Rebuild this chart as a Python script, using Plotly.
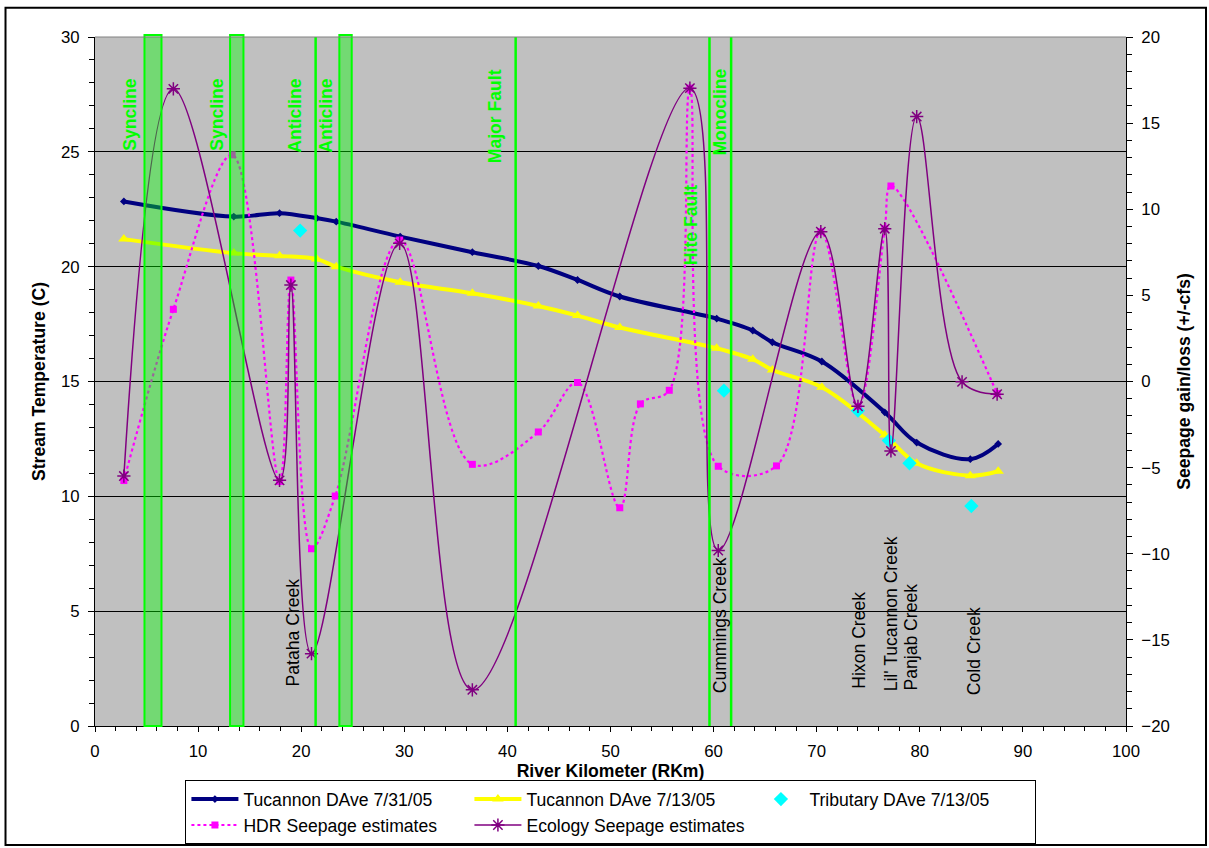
import plotly.graph_objects as go

# ---------------- data ----------------
km_main = [2.8, 13.46, 17.9, 21.5, 23.4, 29.6, 36.6, 43.0, 46.8, 50.9, 60.3, 63.8, 65.7, 70.5, 76.6, 79.7, 84.9, 87.6]
temp_0731 = [22.84, 22.18, 22.33, 22.11, 21.96, 21.31, 20.63, 20.03, 19.42, 18.70, 17.74, 17.22, 16.71, 15.87, 13.66, 12.34, 11.62, 12.28]
temp_0713 = [21.2, 20.59, 20.47, 20.33, 20.0, 19.32, 18.84, 18.29, 17.87, 17.35, 16.45, 15.97, 15.5, 14.75, 12.67, 11.44, 10.9, 11.09]

trib_km = [19.9, 61.0, 74.0, 77.0, 79.0, 85.0]
trib_temp = [21.57, 14.6, 13.73, 12.43, 11.44, 9.58]

hdr_km = [2.8, 7.6, 13.3, 17.9, 19.0, 21.0, 23.3, 29.55, 36.6, 43.0, 46.8, 50.9, 52.9, 55.7, 57.7, 60.45, 66.1, 70.4, 74.0, 76.6, 77.2, 87.5]
hdr_cfs = [-5.75, 4.19, 13.16, -5.8, 5.89, -9.71, -6.65, 8.21, -4.81, -2.93, -0.06, -7.33, -1.30, -0.51, 17.03, -4.92, -4.9, 8.70, -1.44, 8.87, 11.35, -0.7]

eco_km = [2.8, 7.6, 17.9, 19.0, 21.0, 29.55, 36.6, 57.7, 60.45, 70.4, 74.0, 76.6, 77.2, 79.7, 84.1, 87.5]
eco_cfs = [-5.49, 16.99, -5.74, 5.6, -15.8, 8.02, -17.9, 17.03, -9.81, 8.70, -1.44, 8.87, -4.03, 15.38, -0.02, -0.74]

# geologic features
band_ranges = [(4.8, 6.45), (13.1, 14.4), (23.7, 24.9)]
fault_lines = [21.4, 40.8, 59.6, 61.7]
geo_labels = ["Syncline", "Syncline", "Anticline", "Anticline", "Major Fault", "Hite Fault", "Monocline"]
geo_label_x = [3.44, 11.88, 19.44, 22.44, 38.83, 57.83, 60.65]
geo_label_y = [24.96, 24.96, 24.87, 24.87, 24.43, 19.99, 24.74]

creek_labels = ["Pataha Creek", "Cummings Creek", "Hixon Creek", "Lil' Tucannon Creek", "Panjab Creek", "Cold Creek"]
creek_label_x = [19.24, 60.65, 74.02, 77.2, 79.16, 85.27]
creek_label_y = [1.65, 1.35, 1.52, 1.44, 1.44, 1.26]

FONT = "Arial, Liberation Sans, sans-serif"
GREEN = "#00FF00"
TXT = 17.6

fig = go.Figure()

fig.add_trace(go.Scatter(
    x=km_main, y=temp_0731, name="Tucannon DAve 7/31/05", mode="lines+markers",
    line=dict(color="#000080", width=4, shape="spline", smoothing=1),
    marker=dict(symbol="diamond", size=6, color="#000080")))
fig.add_trace(go.Scatter(
    x=km_main, y=temp_0713, name="Tucannon DAve 7/13/05", mode="lines+markers",
    line=dict(color="#FFFF00", width=4, shape="spline", smoothing=1),
    marker=dict(symbol="triangle-up", size=10, color="#FFFF00")))
fig.add_trace(go.Scatter(
    x=trib_km, y=trib_temp, name="Tributary DAve 7/13/05", mode="markers",
    marker=dict(symbol="diamond", size=11, color="#00FFFF")))
fig.add_trace(go.Scatter(
    x=hdr_km, y=hdr_cfs, name="HDR Seepage estimates", mode="lines+markers", yaxis="y2",
    line=dict(color="#FF00FF", width=2.2, dash="dot", shape="spline", smoothing=1),
    marker=dict(symbol="square", size=7, color="#FF00FF")))
fig.add_trace(go.Scatter(
    x=eco_km, y=eco_cfs, name="Ecology Seepage estimates", mode="lines+markers", yaxis="y2",
    line=dict(color="#800080", width=1.5, shape="spline", smoothing=1),
    marker=dict(symbol="asterisk-open", size=11, color="#800080", line=dict(color="#800080", width=1.5))))

shapes = []
for x0, x1 in band_ranges:
    shapes.append(dict(type="rect", xref="x", yref="paper", x0=x0, x1=x1, y0=0, y1=1.003,
                       fillcolor="rgba(0,255,0,0.4)", line=dict(color=GREEN, width=2), layer="above"))
for xv in fault_lines:
    shapes.append(dict(type="line", xref="x", yref="paper", x0=xv, x1=xv, y0=0, y1=1.0,
                       line=dict(color=GREEN, width=2.5), layer="above"))
# top edge of plot area
shapes.append(dict(type="line", xref="paper", yref="paper", x0=0, x1=1, y0=1, y1=1,
                   line=dict(color="#808080", width=1), layer="above"))
# outer chart frame
shapes.append(dict(type="rect", xref="paper", yref="paper", x0=-0.0868, x1=1.0776, y0=-0.1728, y1=1.0425,
                   line=dict(color="black", width=2), fillcolor="rgba(0,0,0,0)", layer="above"))

annotations = []
for t, xv, yv in zip(geo_labels, geo_label_x, geo_label_y):
    annotations.append(dict(text="<b>%s</b>" % t, x=xv, y=yv, xref="x", yref="y", textangle=-90,
                            xanchor="center", yanchor="bottom", showarrow=False,
                            font=dict(family=FONT, size=TXT, color=GREEN)))
for t, xv, yv in zip(creek_labels, creek_label_x, creek_label_y):
    annotations.append(dict(text=t, x=xv, y=yv, xref="x", yref="y", textangle=-90,
                            xanchor="center", yanchor="bottom", showarrow=False,
                            font=dict(family=FONT, size=TXT, color="black")))

fig.update_layout(
    width=1209, height=848,
    margin=dict(l=94.5, r=83, t=37, b=122, autoexpand=False),
    plot_bgcolor="#C0C0C0", paper_bgcolor="white",
    font=dict(family=FONT, size=TXT, color="black"),
    shapes=shapes, annotations=annotations,
    legend=dict(orientation="h", x=0.0877, xanchor="left", y=-0.0786, yanchor="top",
                bordercolor="black", borderwidth=1, bgcolor="white",
                entrywidth=221, entrywidthmode="pixels", itemwidth=47,
                font=dict(family=FONT, size=TXT), tracegroupgap=0),
    xaxis=dict(range=[0, 100], tick0=0, dtick=10, showgrid=False, zeroline=False,
               showline=True, linecolor="black", linewidth=1,
               ticks="outside", ticklen=5, tickcolor="black", ticklabelstandoff=5,
               minor=dict(dtick=2, ticks="outside", ticklen=4, tickcolor="black", showgrid=False),
               tickfont=dict(size=16.8),
               title=dict(text="<b>River Kilometer (RKm)</b>", font=dict(size=TXT), standoff=2)),
    yaxis=dict(range=[0, 30], tick0=0, dtick=5, showgrid=True, gridcolor="black", gridwidth=1,
               zeroline=False, showline=True, linecolor="black", linewidth=1,
               ticks="outside", ticklen=6, tickcolor="black", ticklabelstandoff=5,
               minor=dict(dtick=1, ticks="outside", ticklen=5, tickcolor="black", showgrid=False),
               tickfont=dict(size=16.8),
               title=dict(text="<b>Stream Temperature (C)</b>", font=dict(size=TXT), standoff=10)),
    yaxis2=dict(range=[-20, 20], tick0=0, dtick=5, overlaying="y", side="right", showgrid=False,
                zeroline=False, showline=True, linecolor="black", linewidth=1,
                ticks="outside", ticklen=6, tickcolor="black", ticklabelstandoff=5,
                minor=dict(dtick=1, ticks="outside", ticklen=5, tickcolor="black", showgrid=False),
                tickfont=dict(size=16.8),
                title=dict(text="<b>Seepage gain/loss (+/-cfs)</b>", font=dict(size=TXT), standoff=8)),
)

fig.write_html("out.html", config={"displayModeBar": False},
               post_script="document.body.style.margin='0px';")
